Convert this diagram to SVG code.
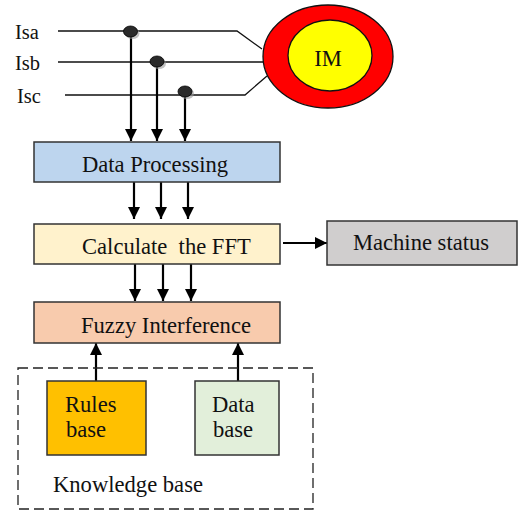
<svg xmlns="http://www.w3.org/2000/svg" width="519" height="511" viewBox="0 0 519 511">
<defs>
<marker id="ah" markerUnits="userSpaceOnUse" markerWidth="12" markerHeight="12" viewBox="0 0 12 12" refX="12" refY="6" orient="auto">
<path d="M0,0 L12,6 L0,12 Z" fill="#000"/>
</marker>
</defs>
<style>
text{font-family:"Liberation Serif","Times New Roman",serif;fill:#111;}
.lbl{font-size:20.5px;}
.bx{font-size:22.6px;}
.box{stroke:#333;stroke-width:1.5;}
.wire{stroke:#111;stroke-width:1.3;fill:none;}
.arr{stroke:#000;stroke-width:2.2;fill:none;marker-end:url(#ah);}
</style>
<rect width="519" height="511" fill="#fff"/>

<g id="labels">
<text class="lbl" x="15" y="39">Isa</text>
<text class="lbl" x="15" y="70">Isb</text>
<text class="lbl" x="17" y="103">Isc</text>
</g>

<g id="connectors">
<polyline class="wire" points="58,31 237,31 262,49"/>
<line class="wire" x1="58" y1="62" x2="265" y2="62"/>
<polyline class="wire" points="65,95 245,95 267,76"/>
<line class="arr" x1="131" y1="32" x2="131" y2="141"/>
<line class="arr" x1="157" y1="62" x2="157" y2="141"/>
<line class="arr" x1="185" y1="92" x2="185" y2="141"/>
<line class="arr" x1="134" y1="182" x2="134" y2="219"/>
<line class="arr" x1="161" y1="182" x2="161" y2="219"/>
<line class="arr" x1="188" y1="182" x2="188" y2="219"/>
<line class="arr" x1="135" y1="264" x2="135" y2="301"/>
<line class="arr" x1="163" y1="264" x2="163" y2="301"/>
<line class="arr" x1="191" y1="264" x2="191" y2="301"/>
<line class="arr" x1="283" y1="243" x2="327" y2="243"/>
<line class="arr" x1="96" y1="381" x2="96" y2="343"/>
<line class="arr" x1="238" y1="381" x2="238" y2="343"/>
</g>

<g id="junctions">
<ellipse cx="132.5" cy="33.5" rx="7" ry="5.5" fill="#999" opacity="0.6"/>
<ellipse cx="130.5" cy="31.5" rx="7" ry="5.5" fill="#2a2a2a" stroke="#000" stroke-width="0.8"/>
<ellipse cx="159" cy="63.5" rx="7" ry="5.5" fill="#999" opacity="0.6"/>
<ellipse cx="157" cy="61.5" rx="7" ry="5.5" fill="#2a2a2a" stroke="#000" stroke-width="0.8"/>
<ellipse cx="187" cy="93.5" rx="7" ry="5.5" fill="#999" opacity="0.6"/>
<ellipse cx="185" cy="91.5" rx="7" ry="5.5" fill="#2a2a2a" stroke="#000" stroke-width="0.8"/>
</g>

<g id="motor">
<ellipse cx="328" cy="56.5" rx="65" ry="51.5" fill="#ff0000" stroke="#111" stroke-width="1.3"/>
<ellipse cx="330" cy="55.5" rx="42" ry="35.5" fill="#ffff00" stroke="#111" stroke-width="1.3"/>
<text class="bx" x="328" y="66" text-anchor="middle">IM</text>
</g>

<g id="data-processing">
<rect class="box" x="34" y="142" width="246" height="40" fill="#bdd5ee"/>
<text class="bx" x="155" y="172" text-anchor="middle">Data Processing</text>
</g>

<g id="fft">
<rect class="box" x="34" y="224" width="246" height="40" fill="#fff2cc"/>
<text class="bx" x="82" y="254" xml:space="preserve">Calculate  the FFT</text>
</g>

<g id="machine-status">
<rect class="box" x="327" y="221" width="190" height="44" fill="#d0cece"/>
<text class="bx" x="421" y="250" text-anchor="middle">Machine status</text>
</g>

<g id="fuzzy">
<rect class="box" x="34" y="302" width="246" height="41" fill="#f8cbad"/>
<text class="bx" x="81" y="333">Fuzzy Interference</text>
</g>

<g id="knowledge-base">
<rect x="18" y="368" width="295" height="141" fill="none" stroke="#222" stroke-width="1.3" stroke-dasharray="10,5"/>
<text class="bx" x="53" y="492">Knowledge base</text>
</g>

<g id="rules-base">
<rect class="box" x="47" y="381" width="99" height="74" fill="#ffc000"/>
<text class="bx" x="65" y="412">Rules</text>
<text class="bx" x="66" y="437">base</text>
</g>

<g id="data-base">
<rect class="box" x="195" y="381" width="84" height="74" fill="#e2efda"/>
<text class="bx" x="212" y="412">Data</text>
<text class="bx" x="213" y="437">base</text>
</g>
</svg>
